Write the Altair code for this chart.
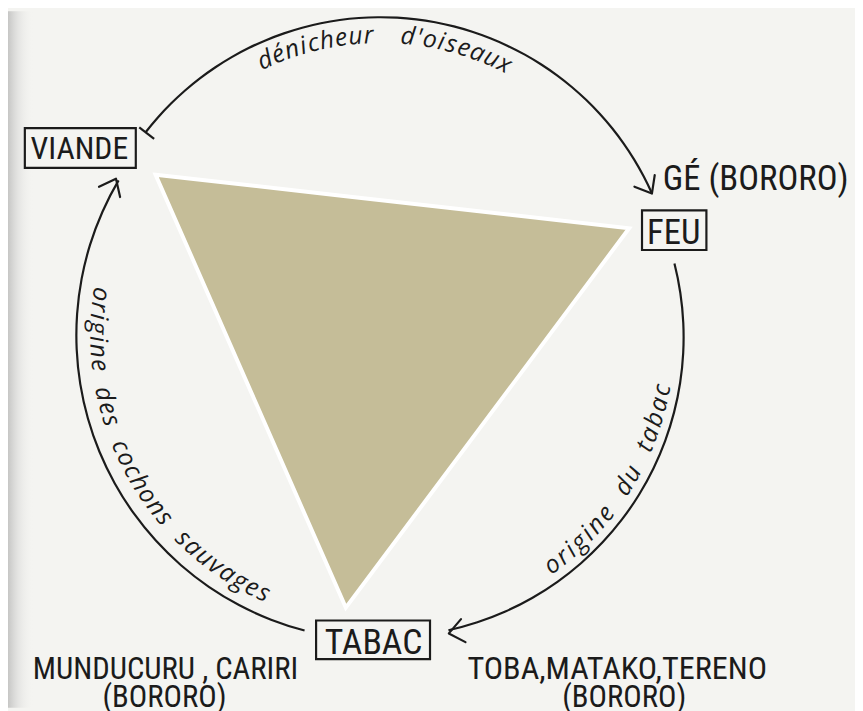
import math
import altair as alt
import pandas as pd

# ---------------- values (image pixel units) ----------------
# shaded triangle (VIANDE corner, FEU corner, TABAC corner)
tri_x = [157, 635, 349]
tri_y = [173, 227, 610]

# the three curved arrows of the cycle: centre, radius, start / end bearing (deg, clockwise from north)
arc_id = ["top", "right", "left"]
arc_cx = [384, 387, 385]
arc_cy = [314, 337, 335]
arc_r = [300, 303, 308]
arc_from = [-52.2, 75.8, 194.6]
arc_to = [66.0, 167.5, 300.5]

# open arrow heads at the arc ends (tip position, pointing direction in degrees)
head_x = [658, 453, 117]
head_y = [192, 636, 177]
head_dir = [60, 169, 296]

# bar at the start of the top arc
tick_x = [148]
tick_y = [131]
tick_dir = [307.8]

# boxed terms
box_label = ["VIANDE", "FEU", "TABAC"]
box_x1 = [25, 648, 319]
box_x2 = [137, 713, 434]
box_y1 = [126, 209, 623]
box_y2 = [166, 249, 662]
box_tx = [80, 680, 377]
box_ty = [157, 243, 657]
box_fs = [32, 35, 36]

# people names
note_text = ["GÉ (BORORO)", "MUNDUCURU , CARIRI", "(BORORO)", "TOBA,MATAKO,TERENO", "(BORORO)"]
note_x = [669, 167, 166, 623, 630]
note_y = [188, 682, 710, 682, 710]
note_align = ["left", "center", "center", "center", "center"]
note_fs = [35, 31, 31, 32.5, 31]

# curved captions along the arcs
curve_text = ["dénicheur d'oiseaux", "origine du tabac", "origine des cochons sauvages"]
curve_arc = [0, 1, 2]
curve_from = [-26.0, 145.0, 279.8]
curve_to = [27.7, 99.4, 203.3]
curve_r = [274, 294, 294]
curve_flip = [False, True, True]
curve_space = [1.3, 0.8, 0.75]

# ---------------- build tables ----------------
PAPER = "#f4f4f1"
INK = "#1b1b1b"

xs = alt.Scale(domain=[8, 863], nice=False, zero=False)
ys = alt.Scale(domain=[8, 711], nice=False, zero=False, reverse=True)
th_scale = alt.Scale(domain=[0, 360], range=[0, 2 * math.pi])
r_scale = alt.Scale(type="linear", domain=[0, 1000], range=[0, 1000], zero=True, nice=False)

# triangle as an area: top edge A-B, bottom edge A-C-B
ax, bx, cx = tri_x
ay, by, cy = tri_y
y_ab_at_c = ay + (cx - ax) / (bx - ax) * (by - ay)
tri_df = pd.DataFrame({"x": [ax, cx, bx], "y": [ay, y_ab_at_c, by], "y2": [ay, cy, by]})

arc_df = pd.DataFrame({
    "id": arc_id, "cx": arc_cx, "cy": arc_cy,
    "t1": arc_from, "t2": arc_to,
    "ro": [r + 1.1 for r in arc_r], "ri": [r - 1.1 for r in arc_r],
})
head_df = pd.DataFrame({"x": head_x, "y": head_y, "a": head_dir})
tick_df = pd.DataFrame({"x": tick_x, "y": tick_y, "a": tick_dir})
box_df = pd.DataFrame({"label": box_label, "x1": box_x1, "x2": box_x2, "y1": box_y1, "y2": box_y2,
                       "tx": box_tx, "ty": box_ty, "fs": box_fs})
note_df = pd.DataFrame({"t": note_text, "x": note_x, "y": note_y, "al": note_align, "fs": note_fs})

# approximate italic glyph widths (em)
W = {'a': .60, 'b': .60, 'c': .48, 'd': .60, 'e': .53, 'é': .53, 'g': .54, 'h': .60, 'i': .27,
     'n': .60, 'o': .58, 'r': .40, 's': .46, 'u': .60, 'x': .50, 'v': .51, 't': .34, "'": .22}
TRACK = 0.15
rows = []
for k, txt in enumerate(curve_text):
    a = curve_arc[k]
    widths = [curve_space[k] if c == " " else W.get(c, .55) + TRACK for c in txt]
    total = sum(widths)
    acc = 0.0
    for c, w in zip(txt, widths):
        mid = acc + w / 2
        acc += w
        if c == " ":
            continue
        th = curve_from[k] + (curve_to[k] - curve_from[k]) * mid / total
        ang = (th + 180) % 360 if curve_flip[k] else th % 360
        rows.append({"ch": c, "cx": arc_cx[a], "cy": arc_cy[a], "th": th, "r": curve_r[k], "ang": ang})
curve_df = pd.DataFrame(rows)

edge_df = pd.DataFrame({"x": [8], "x2": [34], "y": [8], "y2": [711]})

# ---------------- layers ----------------
edge = alt.Chart(edge_df).mark_rect(
    fill={"gradient": "linear", "x1": 0, "x2": 1, "y1": 0, "y2": 0,
          "stops": [{"offset": 0, "color": "rgba(160,160,160,0.55)"},
                    {"offset": 0.4, "color": "rgba(200,200,200,0.35)"},
                    {"offset": 1, "color": "rgba(244,244,241,0)"}]}
).encode(x=alt.X("x:Q", scale=xs, axis=None), x2="x2:Q",
         y=alt.Y("y:Q", scale=ys, axis=None), y2="y2:Q")

tri = alt.Chart(tri_df).mark_area(color="#c5bd98", stroke="white", strokeWidth=4,
                                  strokeJoin="miter", opacity=1).encode(
    x=alt.X("x:Q", scale=xs, axis=None),
    y=alt.Y("y:Q", scale=ys, axis=None, stack=None),
    y2="y2:Q",
)

arcs = alt.Chart(arc_df).mark_arc(color=INK).encode(
    x=alt.X("cx:Q", scale=xs, axis=None),
    y=alt.Y("cy:Q", scale=ys, axis=None),
    theta=alt.Theta("t1:Q", scale=th_scale, stack=None),
    theta2="t2:Q",
    radius=alt.Radius("ro:Q", scale=r_scale),
    radius2="ri:Q",
)

heads = alt.Chart(head_df).mark_point(
    shape="M-1,-0.8L0,0L-1,0.8", filled=False, size=876, stroke=INK, strokeWidth=2.2,
    opacity=1, strokeCap="round", strokeJoin="round"
).encode(x=alt.X("x:Q", scale=xs, axis=None), y=alt.Y("y:Q", scale=ys, axis=None),
         angle=alt.Angle("a:Q", scale=None))

tick = alt.Chart(tick_df).mark_point(
    shape="M0,-1L0,1", filled=False, size=361, stroke=INK, strokeWidth=2.2, opacity=1
).encode(x=alt.X("x:Q", scale=xs, axis=None), y=alt.Y("y:Q", scale=ys, axis=None),
         angle=alt.Angle("a:Q", scale=None))

boxes = alt.Chart(box_df).mark_rect(fill=PAPER, stroke=INK, strokeWidth=2.2).encode(
    x=alt.X("x1:Q", scale=xs, axis=None), x2="x2:Q",
    y=alt.Y("y1:Q", scale=ys, axis=None), y2="y2:Q",
)

NARROW = "Roboto Condensed, Liberation Sans Narrow, DejaVu Sans Condensed, Roboto, sans-serif"

box_text = alt.Chart(box_df).mark_text(
    font=NARROW, color=INK, align="center", baseline="alphabetic"
).encode(x=alt.X("tx:Q", scale=xs, axis=None), y=alt.Y("ty:Q", scale=ys, axis=None),
         text="label:N", size=alt.Size("fs:Q", scale=None))

notes_left = alt.Chart(note_df[note_df["al"] == "left"]).mark_text(
    font=NARROW, color=INK, baseline="alphabetic", align="left"
).encode(x=alt.X("x:Q", scale=xs, axis=None), y=alt.Y("y:Q", scale=ys, axis=None),
         text="t:N", size=alt.Size("fs:Q", scale=None))

notes_center = alt.Chart(note_df[note_df["al"] == "center"]).mark_text(
    font=NARROW, color=INK, baseline="alphabetic", align="center"
).encode(x=alt.X("x:Q", scale=xs, axis=None), y=alt.Y("y:Q", scale=ys, axis=None),
         text="t:N", size=alt.Size("fs:Q", scale=None))

curves = alt.Chart(curve_df).mark_text(
    font="Open Sans, sans-serif", fontStyle="italic", fontSize=25, color=INK,
    align="center", baseline="alphabetic"
).encode(
    x=alt.X("cx:Q", scale=xs, axis=None), y=alt.Y("cy:Q", scale=ys, axis=None),
    theta=alt.Theta("th:Q", scale=th_scale),
    radius=alt.Radius("r:Q", scale=r_scale),
    angle=alt.Angle("ang:Q", scale=None),
    text="ch:N",
)

chart = alt.layer(edge, tri, arcs, heads, tick, boxes, box_text, notes_left, notes_center, curves).properties(
    width=855, height=703, padding=0, background=PAPER,
    autosize=alt.AutoSizeParams(type="none"),
).configure_view(stroke=None)

chart.save("out.html", embed_options={"renderer": "svg", "actions": False})
